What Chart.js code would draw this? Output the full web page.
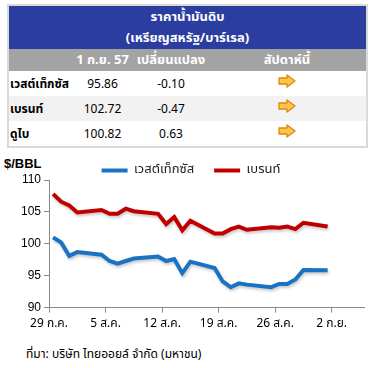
<!DOCTYPE html>
<html>
<head>
<meta charset="utf-8">
<script src="https://cdn.jsdelivr.net/npm/chart.js@4.4.1/dist/chart.umd.min.js"></script>
<style>
  body { margin: 0; width: 376px; height: 368px; background: #fff; position: relative; overflow: hidden;
         font-family: Tahoma, "Noto Sans Thai", "Liberation Sans", Arial, sans-serif; }
  #priceTable { position: absolute; left: 7px; top: 4px; width: 361px; border-collapse: collapse;
                table-layout: fixed; border: 2px solid #d9d9d9; font-size: 12px; }
  #priceTable td { padding: 0; white-space: nowrap; }
  #priceTable .title td { background: #2b3ea0; color: #fff; font-weight: bold; font-size: 13px; text-align: center; height: 21.5px; }
  #priceTable .head td { background: #a3a3a3; color: #fff; font-weight: bold; font-size: 13px; text-align: center; height: 22px; }
  #priceTable .row td { height: 25px; text-align: center; color: #000; }
  #priceTable .row td.name { text-align: left; font-weight: bold; padding-left: 1px; }
  #priceTable .row.alt td { background: #f2f2f2; }
  #unit { position: absolute; left: 4px; top: 156px; font-size: 13px; font-weight: bold; color: #000; font-family: "Liberation Sans", Arial, sans-serif; }
  #chartBox { position: absolute; left: 0; top: 144px; width: 376px; height: 193px; }
  #source { position: absolute; left: 26px; top: 345px; font-size: 12px; color: #000; }
</style>
</head>
<body>
<table id="priceTable">
  <colgroup><col style="width:63px"><col style="width:63px"><col style="width:74px"><col></colgroup>
  <tbody id="tblBody"></tbody>
</table>
<div id="unit">$/BBL</div>
<div id="chartBox"><canvas id="oilChart"></canvas></div>
<div id="source">ที่มา: บริษัท ไทยออยล์ จำกัด (มหาชน)</div>

<script>
// ตาราง
const tableTitle = ['ราคาน้ำมันดิบ', '(เหรียญสหรัฐ/บาร์เรล)'];
const tableHead = ['', '1 ก.ย. 57', 'เปลี่ยนแปลง', 'สัปดาห์นี้'];
const oilNames = ['เวสต์เท็กซัส', 'เบรนท์', 'ดูไบ'];
const oilPrices = ['95.86', '102.72', '100.82'];
const oilChanges = ['-0.10', '-0.47', '0.63'];

// กราฟ (วันที่นับจาก 29 ก.ค.)
const tickLabels = ['29 ก.ค.', '5 ส.ค.', '12 ส.ค.', '19 ส.ค.', '26 ส.ค.', '2 ก.ย.'];
const tradeDays = [0, 1, 2, 3, 6, 7, 8, 9, 10, 13, 14, 15, 16, 17, 20, 21, 22, 23, 24, 27, 28, 29, 30, 31, 34];
const wti   = [101.0, 100.2, 98.1, 98.7, 98.3, 97.3, 96.9, 97.3, 97.7, 98.0, 97.3, 97.6, 95.4, 97.2, 96.2, 94.1, 93.2, 93.8, 93.6, 93.2, 93.7, 93.7, 94.4, 95.9, 95.86];
const brent = [107.8, 106.6, 106.0, 104.9, 105.3, 104.7, 104.7, 105.5, 105.1, 104.7, 103.1, 104.2, 102.1, 103.6, 101.6, 101.6, 102.3, 102.7, 102.2, 102.6, 102.5, 102.7, 102.3, 103.3, 102.72];

const arrowSvg = '<svg width="18" height="14" viewBox="0 0 18 14"><polygon points="1,4 9,4 9,1 17,7 9,13 9,10 1,10" fill="#fbc84a" stroke="#e0840e" stroke-width="1.3" stroke-linejoin="round"/></svg>';

const body = document.getElementById('tblBody');
let html = '';
tableTitle.forEach(t => { html += `<tr class="title"><td colspan="4">${t}</td></tr>`; });
html += '<tr class="head">' + tableHead.map(h => `<td>${h}</td>`).join('') + '</tr>';
oilNames.forEach((n, i) => {
  html += `<tr class="row${i % 2 ? ' alt' : ''}"><td class="name">${n}</td><td>${oilPrices[i]}</td><td>${oilChanges[i]}</td><td>${arrowSvg}</td></tr>`;
});
body.innerHTML = html;

const fontFam = 'Tahoma, "Noto Sans Thai", "Liberation Sans", Arial, sans-serif';
const toPoints = vals => tradeDays.map((d, i) => ({ x: d + 0.5, y: vals[i] }));

// legend ชิดกราฟมากขึ้น
const legendTight = {
  id: 'legendTight',
  beforeInit(chart) {
    const fit = chart.legend.fit;
    chart.legend.fit = function () {
      fit.bind(chart.legend)();
      this.height -= 7;
    };
  }
};

// เงาเส้นจางๆ
const lineShadow = {
  id: 'lineShadow',
  beforeDatasetsDraw(chart) {
    const c = chart.ctx;
    c.save();
    c.shadowColor = 'rgba(0,0,0,0.22)';
    c.shadowBlur = 3;
    c.shadowOffsetX = 1;
    c.shadowOffsetY = 2;
  },
  afterDatasetsDraw(chart) {
    chart.ctx.restore();
  }
};

new Chart(document.getElementById('oilChart').getContext('2d'), {
  type: 'line',
  data: {
    datasets: [
      { label: 'เวสต์เท็กซัส', data: toPoints(wti), borderColor: '#1a72c4', backgroundColor: '#1a72c4', borderWidth: 4, pointRadius: 0 },
      { label: 'เบรนท์', data: toPoints(brent), borderColor: '#c00000', backgroundColor: '#c00000', borderWidth: 4, pointRadius: 0 }
    ]
  },
  plugins: [legendTight, lineShadow],
  options: {
    animation: false,
    responsive: true,
    maintainAspectRatio: false,
    layout: { padding: { left: 18, right: 12, top: 0, bottom: 0 } },
    plugins: {
      legend: {
        position: 'top',
        labels: {
          usePointStyle: true, pointStyle: 'line', pointStyleWidth: 26,
          color: '#222', padding: 20,
          font: { family: fontFam, size: 13 }
        }
      },
      tooltip: { enabled: false }
    },
    scales: {
      x: {
        type: 'linear', min: 0, max: 39,
        ticks: {
          stepSize: 7, includeBounds: false, maxRotation: 0, autoSkip: false,
          color: '#000', padding: 5,
          font: { family: fontFam, size: 12 },
          callback: v => tickLabels[v / 7]
        },
        grid: { drawOnChartArea: false, tickLength: 5, color: '#888' },
        border: { color: '#888' }
      },
      y: {
        min: 90, max: 110,
        ticks: { stepSize: 5, color: '#000', padding: 3, font: { family: '"Liberation Sans", Arial, sans-serif', size: 12 } },
        grid: { drawOnChartArea: false, tickLength: 5, color: '#888' },
        border: { color: '#888' }
      }
    }
  }
});
</script>
</body>
</html>
